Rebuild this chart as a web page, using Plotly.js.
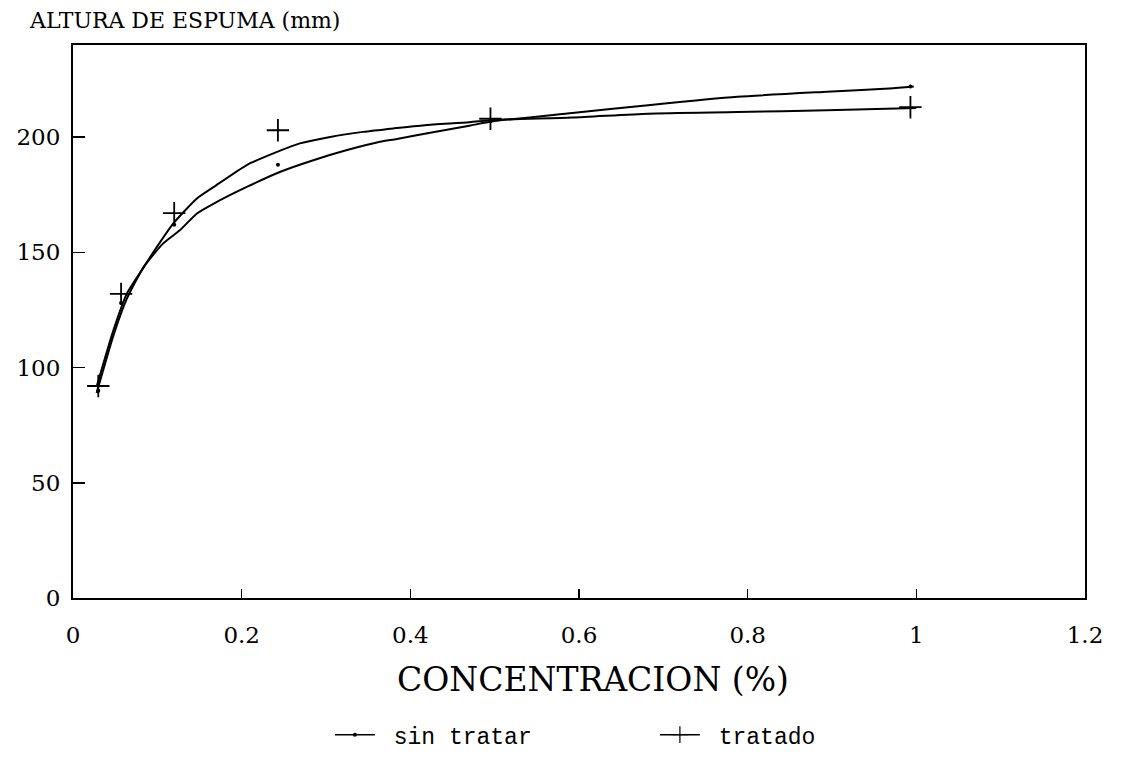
<!DOCTYPE html>
<html>
<head>
<meta charset="utf-8">
<script src="https://cdn.plot.ly/plotly-3.0.1.min.js"></script>
<style>html,body{margin:0;padding:0;background:#fff}#chart{width:1121px;height:759px}</style>
</head>
<body>
<div id="chart"></div>
<script>
// Measured data points
const concX = [0.030, 0.057, 0.120, 0.243, 0.495, 0.993];
const tratadoY = [92, 132, 167, 203, 208, 213];
const sinTratarY = [90, 128, 162, 188, 207, 222];

// Fitted curves
const tratadoFitX = [0.028, 0.048, 0.064, 0.084, 0.0995, 0.119, 0.147, 0.167, 0.206, 0.242, 0.269, 0.305, 0.344, 0.380, 0.417, 0.470, 0.500, 0.592, 0.682, 0.788, 0.894, 1.000];
const tratadoFitY = [91.7, 116.3, 132.2, 143.7, 152.4, 162.6, 173.4, 178.4, 187.9, 193.6, 197.3, 200.1, 202.3, 203.8, 205.2, 206.5, 207.5, 208.5, 210.2, 210.9, 211.7, 212.7];
const sinFitX = [0.028, 0.048, 0.064, 0.084, 0.107, 0.127, 0.147, 0.167, 0.206, 0.246, 0.285, 0.325, 0.364, 0.384, 0.417, 0.470, 0.500, 0.592, 0.682, 0.788, 0.894, 0.968, 0.997];
const sinFitY = [89, 114, 130, 143.7, 153.9, 159.7, 166.9, 171.2, 178.4, 185, 190, 194.4, 198, 199.2, 201.5, 205, 207, 210.5, 213.9, 217.5, 219.7, 221.1, 222];

const xTicks = [0, 0.2, 0.4, 0.6, 0.8, 1, 1.2];
const xTickText = ['0', '0.2', '0.4', '0.6', '0.8', '1', '1.2'];
const yTicks = [0, 50, 100, 150, 200];
const seriesNames = ['sin tratar', 'tratado'];

const tickFont = {family: 'DejaVu Serif, serif', size: 23, color: '#000'};

const traces = [
  {x: sinFitX, y: sinFitY, mode: 'lines', line: {color: '#000', width: 2, shape: 'spline', smoothing: 0.6}, showlegend: false, hoverinfo: 'skip'},
  {x: tratadoFitX, y: tratadoFitY, mode: 'lines', line: {color: '#000', width: 2, shape: 'spline', smoothing: 0.6}, showlegend: false, hoverinfo: 'skip'},
  {x: concX, y: sinTratarY, mode: 'markers', marker: {symbol: 'circle', size: 4, color: '#000'}, showlegend: false},
  {x: concX, y: tratadoY, mode: 'markers', marker: {symbol: 'cross-thin-open', size: 16, color: '#000', line: {color: '#000', width: 1.8}}, showlegend: false},
  // legend entries
  {x: [null], y: [null], name: '\u00a0' + seriesNames[0], mode: 'lines+markers', line: {color: '#000', width: 1.5}, marker: {symbol: 'circle', size: 4, color: '#000'}},
  {x: [null], y: [null], name: '\u00a0' + seriesNames[1], mode: 'lines+markers', line: {color: '#000', width: 1.5}, marker: {symbol: 'cross-thin-open', size: 12, color: '#000', line: {color: '#000', width: 1.2}}}
];

const layout = {
  width: 1121, height: 759,
  paper_bgcolor: '#fff', plot_bgcolor: '#fff',
  margin: {l: 73, r: 36, t: 45, b: 161},
  showlegend: true,
  legend: {orientation: 'h', x: 0.575, xanchor: 'center', yref: 'container', y: 0.032, yanchor: 'middle',
           font: {family: 'Liberation Mono, DejaVu Sans Mono, monospace', size: 23, color: '#000'},
           entrywidth: 270, itemwidth: 40},
  xaxis: {range: [0, 1.2], tickvals: xTicks, ticktext: xTickText, ticks: 'inside', ticklen: 9, tickwidth: 1.5, tickcolor: '#000',
          showline: true, linecolor: '#000', linewidth: 2, mirror: true, showgrid: false, zeroline: false,
          tickfont: tickFont, ticklabelstandoff: 15},
  yaxis: {range: [0, 240], tickvals: yTicks, ticks: 'inside', ticklen: 12, tickwidth: 1.5, tickcolor: '#000',
          showline: true, linecolor: '#000', linewidth: 2, mirror: true, showgrid: false, zeroline: false,
          tickfont: tickFont, ticklabelstandoff: 6},
  annotations: [
    {text: 'ALTURA DE ESPUMA (mm)', xref: 'paper', yref: 'paper', x: -0.045, y: 1.0, xanchor: 'left', yanchor: 'bottom', yshift: 10,
     showarrow: false, font: {family: 'DejaVu Serif, serif', size: 22, color: '#000'}},
    {text: 'CONCENTRACION (%)', xref: 'paper', yref: 'paper', x: 0.514, y: -0.148, xanchor: 'center', yanchor: 'middle',
     showarrow: false, font: {family: 'DejaVu Serif, serif', size: 33, color: '#000'}}
  ]
};

Plotly.newPlot('chart', traces, layout, {displayModeBar: false, staticPlot: true});
</script>
</body>
</html>
